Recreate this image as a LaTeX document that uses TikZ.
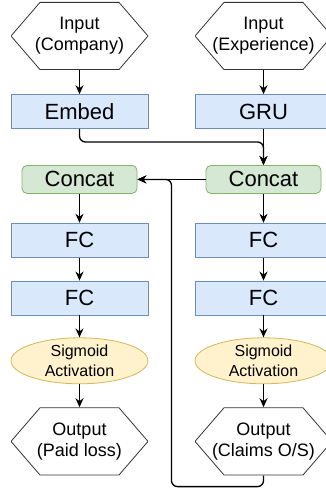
\documentclass[tikz,border=0pt]{standalone}
\usepackage{fontspec}
\setmainfont{Liberation Sans}
\usepackage{tikz}
\usetikzlibrary{shapes,positioning,arrows.meta,calc}
\definecolor{fcfill}{HTML}{DAE8FC}
\definecolor{fcline}{HTML}{6C8EBF}
\definecolor{catfill}{HTML}{D5E8D4}
\definecolor{catline}{HTML}{82B366}
\definecolor{actfill}{HTML}{FFF2CC}
\definecolor{actline}{HTML}{D6B656}

\begin{document}
\begin{tikzpicture}[
        hexa/.style={minimum width=137pt, minimum height=68pt, inner sep=0pt, align=center,
            font=\fontsize{18}{21}\selectfont,
            path picture={\draw[black!80, line width=0.8pt]
                (path picture bounding box.west)
                -- ([xshift=29pt,yshift=-0.4pt]path picture bounding box.north west)
                -- ([xshift=-29pt,yshift=-0.4pt]path picture bounding box.north east)
                -- (path picture bounding box.east)
                -- ([xshift=-29pt,yshift=0.4pt]path picture bounding box.south east)
                -- ([xshift=29pt,yshift=0.4pt]path picture bounding box.south west) -- cycle;}},
        layer/.style={draw=fcline, fill=fcfill, line width=0.8pt, minimum width=137pt, minimum height=34pt,
            inner sep=0pt, font=\fontsize{22}{26}\selectfont},
        merge/.style={draw=catline, fill=catfill, rounded corners=5pt, line width=0.8pt, minimum width=115pt,
            minimum height=28pt, inner sep=0pt, font=\fontsize{22}{26}\selectfont},
        act/.style={ellipse, draw=actline, fill=actfill, line width=0.8pt, minimum width=137pt, minimum height=46pt,
            inner sep=0pt, align=center, font=\fontsize{16}{20}\selectfont},
        link/.style={-{Stealth[length=9pt,width=8pt]}, line width=1.3pt, rounded corners=6pt}]
        \useasboundingbox (0,0) rectangle (325pt,-489pt);
        \node[hexa] (in1) at (79.5pt,-36pt) {Input\\(Company)};
        \node[layer, below=24pt of in1] (embed) {Embed};
        \node[merge, below=36pt of embed] (cat1) {Concat};
        \node[layer, below=29pt of cat1] (fc1) {FC};
        \node[layer, below=23pt of fc1] (fc2) {FC};
        \node[act, below=22pt of fc2] (sig1) {Sigmoid\\Activation};
        \node[hexa, below=23pt of sig1] (out1) {Output\\(Paid loss)};
        \node[hexa] (in2) at ([xshift=184pt]in1) {Input\\(Experience)};
        \node[layer, below=24pt of in2] (gru) {GRU};
        \node[merge, below=36pt of gru] (cat2) {Concat};
        \node[layer, below=29pt of cat2] (fc3) {FC};
        \node[layer, below=23pt of fc3] (fc4) {FC};
        \node[act, below=22pt of fc4] (sig2) {Sigmoid\\Activation};
        \node[hexa, below=23pt of sig2] (out2) {Output\\(Claims O/S)};
        \coordinate (bk) at ($(cat1.east)!.5!(cat2.west)$);
        \draw[link] (in1) -- (embed);
        \draw[link] (in2) -- (gru);
        \draw[link] (embed.south) |- ([yshift=-13pt]gru.south) -- (cat2.north);
        \draw[link] (gru) -- (cat2);
        \draw[link] (cat2) -- (cat1);
        \draw[link] (cat1) -- (fc1);
        \draw[link] (fc1) -- (fc2);
        \draw[link] (fc2) -- (sig1);
        \draw[link] (sig1) -- (out1);
        \draw[link] (cat2) -- (fc3);
        \draw[link] (fc3) -- (fc4);
        \draw[link] (fc4) -- (sig2);
        \draw[link] (sig2) -- (out2);
        \draw[link] (out2.south) -- ++(0,-11pt) -| (bk) -- (cat1.east);
\end{tikzpicture}
\end{document}
